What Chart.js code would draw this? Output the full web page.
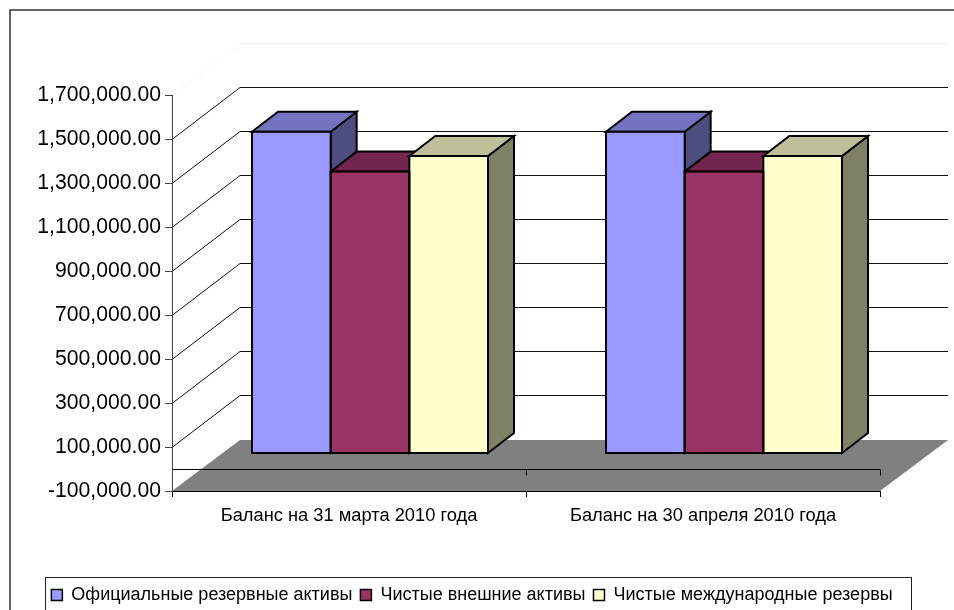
<!DOCTYPE html>
<html>
<head>
<meta charset="utf-8">
<style>
  html, body { margin: 0; padding: 0; background: #fff; overflow: hidden; }
  canvas { display: block; }
</style>
<script src="https://cdn.jsdelivr.net/npm/chart.js@4"></script>
</head>
<body>
<canvas id="chart" width="954" height="610"></canvas>
<script>
const categories = ['Баланс на 31 марта 2010 года', 'Баланс на 30 апреля 2010 года'];
const officialReserves = [1460000, 1460000];
const netForeignAssets = [1279000, 1279000];
const netInternationalReserves = [1350000, 1350000];
const axisMin = -100000;
const axisMax = 1700000;
const axisStep = 200000;

// excel style 3d box: wall depth and bar depth in px
const WALL = { dx: 68, dy: -52 };
const BAR_SHIFT = { dx: 21, dy: -16 };
const BAR_DEPTH = { dx: 26, dy: -20 };

const line = (ctx, x1, y1, x2, y2) => {
  ctx.beginPath();
  ctx.moveTo(x1, y1);
  ctx.lineTo(x2, y2);
  ctx.stroke();
};

const polygon = (ctx, points, fill) => {
  ctx.beginPath();
  points.forEach(([x, y], i) => (i ? ctx.lineTo(x, y) : ctx.moveTo(x, y)));
  ctx.closePath();
  ctx.fillStyle = fill;
  ctx.fill();
  ctx.stroke();
};

const box3d = {
  id: 'box3d',
  afterLayout(chart) {
    // the legend is centred on the page, not on the shrunken layout box
    const { legend } = chart;
    legend.left += 32;
    legend.right += 32;
    legend.top += 4;
    legend.bottom += 4;
  },
  beforeDraw(chart) {
    const { ctx, chartArea: area, scales: { y } } = chart;
    ctx.save();
    ctx.fillStyle = '#fff';
    ctx.fillRect(0, 0, chart.width, chart.height);

    // outer frame runs off the page on the right and bottom
    ctx.strokeStyle = '#333';
    ctx.lineWidth = 1.5;
    ctx.strokeRect(10, 10, 2000, 2000);

    // back wall lines and the diagonals down to the axis
    ctx.lineWidth = 1;
    y.ticks.forEach((tick) => {
      if (tick.value === axisMin) return;
      const py = Math.round(y.getPixelForValue(tick.value)) + 0.5;
      const top = tick.value === axisMax;
      ctx.strokeStyle = top ? '#eeeeee' : '#111';
      ctx.setLineDash(top ? [2, 2] : []);
      line(ctx, area.left, py, area.left + WALL.dx, py + WALL.dy);
      ctx.setLineDash([]);
      line(ctx, area.left + WALL.dx, py + WALL.dy, area.right + WALL.dx, py + WALL.dy);
    });

    // floor
    const floorBack = area.bottom + WALL.dy + 1;
    ctx.fillStyle = '#808080';
    ctx.beginPath();
    ctx.moveTo(area.left, area.bottom);
    ctx.lineTo(area.right, area.bottom);
    ctx.lineTo(area.right + WALL.dx, floorBack);
    ctx.lineTo(area.left + WALL.dx, floorBack);
    ctx.closePath();
    ctx.fill();

    // zero line with its own ticks
    const zero = Math.round(y.getPixelForValue(0)) + 0.5;
    ctx.strokeStyle = '#000';
    line(ctx, area.left, zero, area.right, zero);
    [area.left, (area.left + area.right) / 2, area.right].forEach((px) => {
      line(ctx, Math.round(px) + 0.5, zero, Math.round(px) + 0.5, zero + 6);
    });
    ctx.restore();
  },
  beforeDatasetsDraw(chart) {
    const { ctx } = chart;
    const d = BAR_DEPTH;
    ctx.save();
    ctx.translate(BAR_SHIFT.dx, BAR_SHIFT.dy);
    ctx.strokeStyle = '#000';
    ctx.lineWidth = 2;
    // side and top faces go left to right, the front faces then cover them
    chart.data.datasets.forEach((dataset, index) => {
      chart.getDatasetMeta(index).data.forEach((bar) => {
        const left = bar.x - bar.width / 2;
        const right = bar.x + bar.width / 2;
        polygon(ctx, [[right, bar.y], [right + d.dx, bar.y + d.dy], [right + d.dx, bar.base + d.dy], [right, bar.base]], dataset.sideColor);
        polygon(ctx, [[left, bar.y], [left + d.dx, bar.y + d.dy], [right + d.dx, bar.y + d.dy], [right, bar.y]], dataset.topColor);
      });
    });
  },
  afterDatasetsDraw(chart) {
    const { ctx } = chart;
    chart.data.datasets.forEach((dataset, index) => {
      chart.getDatasetMeta(index).data.forEach((bar) => {
        ctx.strokeRect(bar.x - bar.width / 2, bar.y, bar.width, bar.base - bar.y);
      });
    });
    ctx.restore();
  },
  afterDraw(chart) {
    const { ctx } = chart;
    ctx.save();
    ctx.strokeStyle = '#222';
    ctx.lineWidth = 1;
    ctx.strokeRect(45.5, 577.5, 866, 60);
    ctx.restore();
  },
};

new Chart(document.getElementById('chart'), {
  type: 'bar',
  data: {
    labels: categories,
    datasets: [
      { label: 'Официальные резервные активы', data: officialReserves, backgroundColor: '#9999FF', topColor: '#7373BF', sideColor: '#4D4D80', borderWidth: 0 },
      { label: 'Чистые внешние активы', data: netForeignAssets, backgroundColor: '#993366', topColor: '#73264D', sideColor: '#4D1A33', borderWidth: 0 },
      { label: 'Чистые международные резервы', data: netInternationalReserves, backgroundColor: '#FFFFCC', topColor: '#BFBF99', sideColor: '#808066', borderWidth: 0 },
    ],
  },
  options: {
    responsive: false,
    animation: false,
    layout: { padding: { top: 95, right: 74 } },
    datasets: { bar: { categoryPercentage: 2 / 3, barPercentage: 1, clip: false } },
    plugins: {
      title: { display: false },
      tooltip: { enabled: false },
      legend: {
        position: 'bottom',
        labels: {
          color: '#000',
          font: { family: '"Liberation Sans"', size: 18 },
          boxWidth: 11,
          boxHeight: 11,
          padding: 8,
          generateLabels: (c) => Chart.defaults.plugins.legend.labels.generateLabels(c).map((item) => ({ ...item, lineWidth: 1.5, strokeStyle: '#000' })),
        },
      },
    },
    scales: {
      x: {
        border: { color: '#000' },
        grid: { drawOnChartArea: false, tickLength: 6, tickColor: '#000' },
        ticks: { color: '#000', font: { family: '"Liberation Sans"', size: 18.3 }, padding: 8, maxRotation: 0 },
        afterFit: (scale) => { scale.height = 83; },
      },
      y: {
        min: axisMin,
        max: axisMax,
        border: { color: '#444' },
        grid: { drawOnChartArea: false, tickLength: 7, tickColor: '#444' },
        ticks: {
          stepSize: axisStep,
          color: '#000',
          font: { family: '"Liberation Sans"', size: 21.2 },
          padding: 4,
          callback: (value) => value.toLocaleString('en-US', { minimumFractionDigits: 2 }),
        },
        afterFit: (scale) => { scale.width = 172; },
      },
    },
  },
  plugins: [box3d],
});
</script>
</body>
</html>
